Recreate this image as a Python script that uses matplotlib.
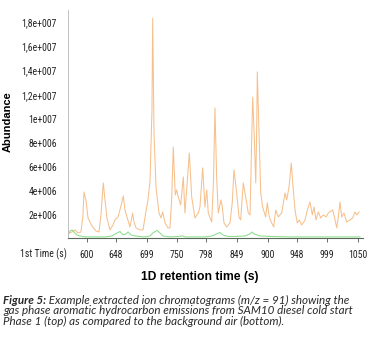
"""SAM10 diesel cold start - extracted ion chromatogram m/z 91"""
import numpy as np
import matplotlib
matplotlib.use('Agg')
import matplotlib.pyplot as plt
from matplotlib import font_manager

# retention time (s) and abundance (x1e6)
sample_time = [568.5, 575.1, 580.1, 585.1, 590.0, 593.4, 595.0, 598.3, 601.7, 608.3,
               614.9, 619.9, 623.2, 627.1, 629.9, 633.2, 638.2, 643.2, 646.5, 651.5,
               656.5, 660.3, 663.1, 666.4, 671.4, 675.9, 678.1, 681.4, 688.0, 693.0,
               697.5, 701.3, 704.6, 706.3, 707.9, 709.1, 711.3, 714.6, 719.6, 722.9,
               725.7, 729.6, 734.5, 737.8, 740.6, 743.3, 746.6, 748.9, 751.6, 755.6,
               759.9, 762.7, 769.9, 773.9, 779.3, 784.8, 787.6, 792.1, 795.9, 798.8,
               801.4, 807.1, 810.1, 812.5, 815.3, 818.0, 822.5, 824.7, 827.5, 831.9,
               837.4, 841.2, 844.1, 848.6, 852.4, 855.2, 859.5, 865.2, 867.8, 870.7,
               873.5, 875.1, 877.8, 880.2, 881.8, 882.8, 885.6, 888.5, 891.7, 896.7,
               899.4, 902.7, 906.7, 910.0, 913.4, 917.7, 923.3, 928.8, 931.6, 935.5,
               939.2, 941.6, 945.4, 949.2, 952.6, 956.5, 962.0, 965.9, 970.3, 974.1,
               977.0, 980.3, 984.1, 988.1, 992.4, 996.9, 1000.7, 1008.0, 1011.9, 1014.7,
               1017.3, 1020.1, 1022.9, 1026.8, 1031.2, 1036.7, 1041.2, 1045.0, 1047.8, 1051.7]
sample_abund = [0.50, 0.58, 0.75, 0.50, 0.58, 2.0, 3.9, 3.25, 1.75, 1.08,
                0.67, 0.58, 2.0, 4.66, 3.25, 1.75, 0.75, 1.16, 1.58, 1.83,
                2.75, 3.58, 2.41, 1.83, 1.0, 2.16, 1.41, 0.92, 0.75, 0.75,
                2.16, 3.25, 4.74, 7.65, 10.7, 18.36, 8.82, 4.33, 2.16, 1.75,
                2.25, 1.33, 0.92, 0.92, 3.25, 7.65, 3.66, 4.08, 3.49, 2.83,
                5.16, 2.16, 7.15, 3.49, 1.75, 2.16, 2.66, 5.91, 2.66, 4.08,
                2.16, 1.41, 4.91, 10.9, 5.16, 2.16, 3.25, 2.66, 1.33, 1.0,
                1.33, 3.0, 5.74, 3.83, 1.83, 1.58, 4.66, 3.0, 2.16, 2.0,
                8.49, 11.8, 8.49, 4.66, 9.07, 13.9, 9.07, 3.83, 2.66, 1.83,
                3.0, 1.83, 1.33, 1.0, 2.41, 1.83, 2.16, 3.83, 3.25, 4.33,
                6.32, 4.66, 2.41, 1.33, 1.58, 1.16, 1.58, 2.41, 3.08, 2.0,
                2.66, 1.58, 2.25, 1.75, 2.0, 1.83, 2.16, 2.41, 1.58, 0.92,
                1.83, 3.08, 1.83, 2.16, 1.41, 1.58, 1.75, 2.25, 2.0, 2.25]

air_time = [568.5, 571.8, 575.1, 578.4, 583.4, 588.4, 596.7, 613.3, 629.9, 641.5,
            649.8, 654.8, 659.8, 664.8, 668.1, 673.1, 679.7, 696.3, 704.6, 709.6,
            716.2, 721.2, 726.2, 737.8, 751.1, 757.7, 764.4, 779.3, 795.9, 807.5,
            815.8, 820.8, 825.8, 834.1, 845.7, 862.3, 870.7, 874.0, 877.3, 887.3,
            903.9, 937.1, 986.9, 1053.3]
air_abund = [0.25, 0.67, 0.75, 0.58, 0.33, 0.25, 0.17, 0.17, 0.17, 0.25,
             0.5, 0.62, 0.33, 0.42, 0.58, 0.33, 0.25, 0.17, 0.25, 0.5,
             0.71, 0.5, 0.25, 0.17, 0.21, 0.25, 0.17, 0.17, 0.17, 0.25,
             0.42, 0.54, 0.33, 0.21, 0.21, 0.25, 0.42, 0.58, 0.42, 0.25,
             0.21, 0.17, 0.17, 0.17]

xtick_vals = [600, 648, 699, 750, 798, 849, 900, 948, 999, 1050]
ytick_vals = [2, 4, 6, 8, 10, 12, 14, 16, 18]
ytick_labels = ['2e+006', '4e+006', '6e+006', '8e+006', '1e+007',
                '1,2e+007', '1,4e+007', '1,6e+007', '1,8e+007']

caption_bold = 'Figure 5:'
caption_lines = [' Example extracted ion chromatograms (m/z = 91) showing the',
                 'gas phase aromatic hydrocarbon emissions from SAM10 diesel cold start',
                 'Phase 1 (top) as compared to the background air (bottom).']

names = {f.name for f in font_manager.fontManager.ttflist}


def pick(cands):
    for c in cands:
        if c in names:
            return c
    return 'DejaVu Sans'


tick_font = pick(['Liberation Sans Narrow', 'DejaVu Sans Condensed', 'Roboto Condensed',
                  'Open Sans Condensed', 'Noto Sans Display', 'Liberation Sans'])
cap_font = pick(['Lato', 'Open Sans'])

fig = plt.figure(figsize=(3.71, 3.40), dpi=100)
renderer = fig.canvas.get_renderer()


def fit_size(text, target_px, maxsize, **kw):
    t = fig.text(0, 0, text, fontsize=10, **kw)
    w = t.get_window_extent(renderer).width
    t.remove()
    return min(maxsize, 10 * target_px / w)


tick_size = fit_size('1,8e+007', 35, 7.5, family=tick_font)

ax = fig.add_axes([68 / 371, 1 - 238 / 340, (363 - 68) / 371, (238 - 10) / 340])

ax.plot(sample_time, sample_abund, color='#f6c08c', linewidth=0.75)
ax.plot(air_time, air_abund, color='#8ade8a', linewidth=0.75)

ax.set_xlim(568.5, 1058.3)
ax.set_ylim(0.08, 19.05)

ax.set_xticks(xtick_vals)
ax.set_xticklabels([str(v) for v in xtick_vals], fontsize=tick_size, family=tick_font,
                   color='#222222')
ax.set_yticks(ytick_vals)
ax.set_yticklabels(ytick_labels, fontsize=tick_size, family=tick_font, color='#222222')
ax.tick_params(axis='x', length=3, width=0.6, color='#555555', pad=6)
ax.tick_params(axis='y', length=0, pad=8)

for s in ['top', 'right']:
    ax.spines[s].set_visible(False)
ax.spines['left'].set_color('#b8b8b8')
ax.spines['left'].set_linewidth(0.6)
ax.spines['bottom'].set_color('#5a6a5a')
ax.spines['bottom'].set_linewidth(0.8)

fig.text(67 / 371, 1 - 254 / 340, '1st Time (s)', fontsize=tick_size, family=tick_font,
         ha='right', va='center', color='#222222')
fig.text(8 / 371, 1 - 122 / 340, 'Abundance', fontsize=8, fontweight='bold',
         family='Liberation Sans', rotation=90, ha='center', va='center')
fig.text(199.5 / 371, 1 - 277 / 340, '1D retention time (s)', fontsize=8.7,
         fontweight='bold', family='Liberation Sans', ha='center', va='center')

# caption, bold italic lead-in followed by italic text
cap_kw = dict(family=cap_font, style='italic', color='#2a2a2a')
cap_size = fit_size(caption_lines[1], 350, 8.4, **cap_kw)
x0 = 3 / 371
line_y = [300, 311, 321.5]
lead = fig.text(x0, 1 - line_y[0] / 340, caption_bold, fontsize=cap_size,
                fontweight='bold', ha='left', va='center', **cap_kw)
bb = lead.get_window_extent(renderer)
fig.text(bb.x1 / fig.bbox.width, 1 - line_y[0] / 340, caption_lines[0], fontsize=cap_size,
         ha='left', va='center', **cap_kw)
for txt, yy in zip(caption_lines[1:], line_y[1:]):
    fig.text(x0, 1 - yy / 340, txt, fontsize=cap_size, ha='left', va='center', **cap_kw)

fig.savefig('out.png', dpi=100)
